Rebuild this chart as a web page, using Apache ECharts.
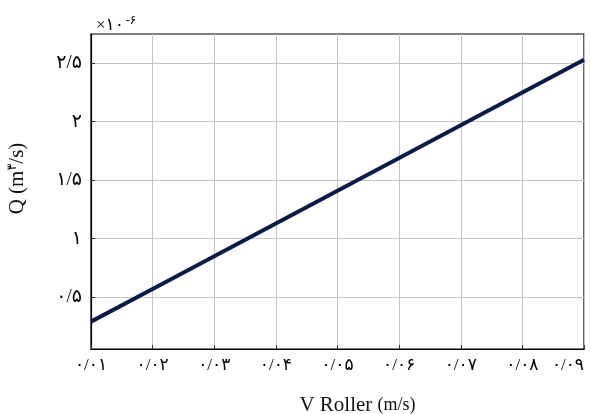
<!DOCTYPE html>
<html>
<head>
<meta charset="utf-8">
<script src="https://cdn.jsdelivr.net/npm/echarts@6/dist/echarts.min.js"></script>
<style>
  html, body { margin: 0; padding: 0; background: #fff; }
  #chart { width: 591px; height: 414px; }
</style>
</head>
<body>
<div id="chart"></div>
<script>
var speeds = [0.01, 0.02, 0.03, 0.04, 0.05, 0.06, 0.07, 0.08, 0.09];
var flows = [0.29, 0.57, 0.85, 1.13, 1.41, 1.69, 1.97, 2.25, 2.53];
var xTickLabels = ['۰/۰۱', '۰/۰۲', '۰/۰۳', '۰/۰۴', '۰/۰۵', '۰/۰۶', '۰/۰۷', '۰/۰۸', '۰/۰۹'];
var yTickValues = [0.5, 1, 1.5, 2, 2.5];
var yTickLabels = ['۰/۵', '۱', '۱/۵', '۲', '۲/۵'];

var fontFam = "'Liberation Serif', 'DejaVu Sans', serif";

loadChart();

function loadChart() {
    var chart = echarts.init(document.getElementById('chart'));

    var points = speeds.map(function (s, i) {
        return [s, flows[i]];
    });

    var option = {
        animation: false,
        title: {
            text: '×۱۰{sup|-۶}',
            left: 91,
            top: 10,
            textStyle: {
                fontFamily: fontFam,
                fontSize: 17,
                fontWeight: 'normal',
                color: '#000',
                rich: {
                    sup: { fontSize: 12, verticalAlign: 'top', padding: [0, 0, 10, 2], fontFamily: fontFam, color: '#000' }
                }
            }
        },
        grid: {
            left: 91,
            right: 7,
            top: 34,
            bottom: 65,
            outerBoundsMode: 'none',
            containLabel: false,
            show: true,
            borderColor: '#000',
            borderWidth: 1.2
        },
        xAxis: {
            type: 'value',
            min: 0.01,
            max: 0.09,
            interval: 0.01,
            name: 'V Roller {u|(m/s)}',
            nameLocation: 'middle',
            nameGap: 46,
            nameTextStyle: {
                fontFamily: fontFam,
                fontSize: 21,
                color: '#111',
                padding: [0, 0, 0, 40],
                rich: {
                    u: { fontFamily: fontFam, fontSize: 18, color: '#111' }
                }
            },
            axisLine: { lineStyle: { color: '#000', width: 1.2 } },
            axisTick: { inside: true, length: 4, lineStyle: { color: '#333' } },
            axisLabel: {
                margin: 8,
                fontFamily: fontFam,
                fontSize: 17,
                color: '#000',
                alignMaxLabel: 'right',
                formatter: function (v) {
                    var i = Math.round((v - 0.01) / 0.01);
                    return xTickLabels[i] || '';
                }
            },
            splitLine: { show: true, lineStyle: { color: '#c4c4c4', width: 1 } }
        },
        yAxis: {
            type: 'value',
            min: 0.056,
            max: 2.75,
            name: 'Q (m{sup|۳}/s)',
            nameLocation: 'middle',
            nameRotate: 90,
            nameGap: 63,
            nameTextStyle: {
                fontFamily: fontFam,
                fontSize: 21,
                color: '#111',
                padding: [0, 0, 0, 26],
                rich: {
                    sup: { fontSize: 13, verticalAlign: 'top', padding: [0, 0, 9, 0], fontFamily: fontFam, color: '#111' }
                }
            },
            axisLine: { lineStyle: { color: '#000', width: 1.2 } },
            axisTick: { inside: true, length: 4, customValues: yTickValues, lineStyle: { color: '#333' } },
            axisLabel: {
                margin: 9,
                fontFamily: fontFam,
                fontSize: 19,
                color: '#000',
                customValues: yTickValues,
                formatter: function (v) {
                    var i = yTickValues.indexOf(Math.round(v * 10) / 10);
                    return i >= 0 ? yTickLabels[i] : '';
                }
            },
            splitLine: { show: true, lineStyle: { color: '#c4c4c4', width: 1 } }
        },
        series: [{
            type: 'line',
            data: points,
            showSymbol: false,
            lineStyle: { color: '#0c1a4a', width: 4 }
        }]
    };

    chart.setOption(option);
}
</script>
</body>
</html>
